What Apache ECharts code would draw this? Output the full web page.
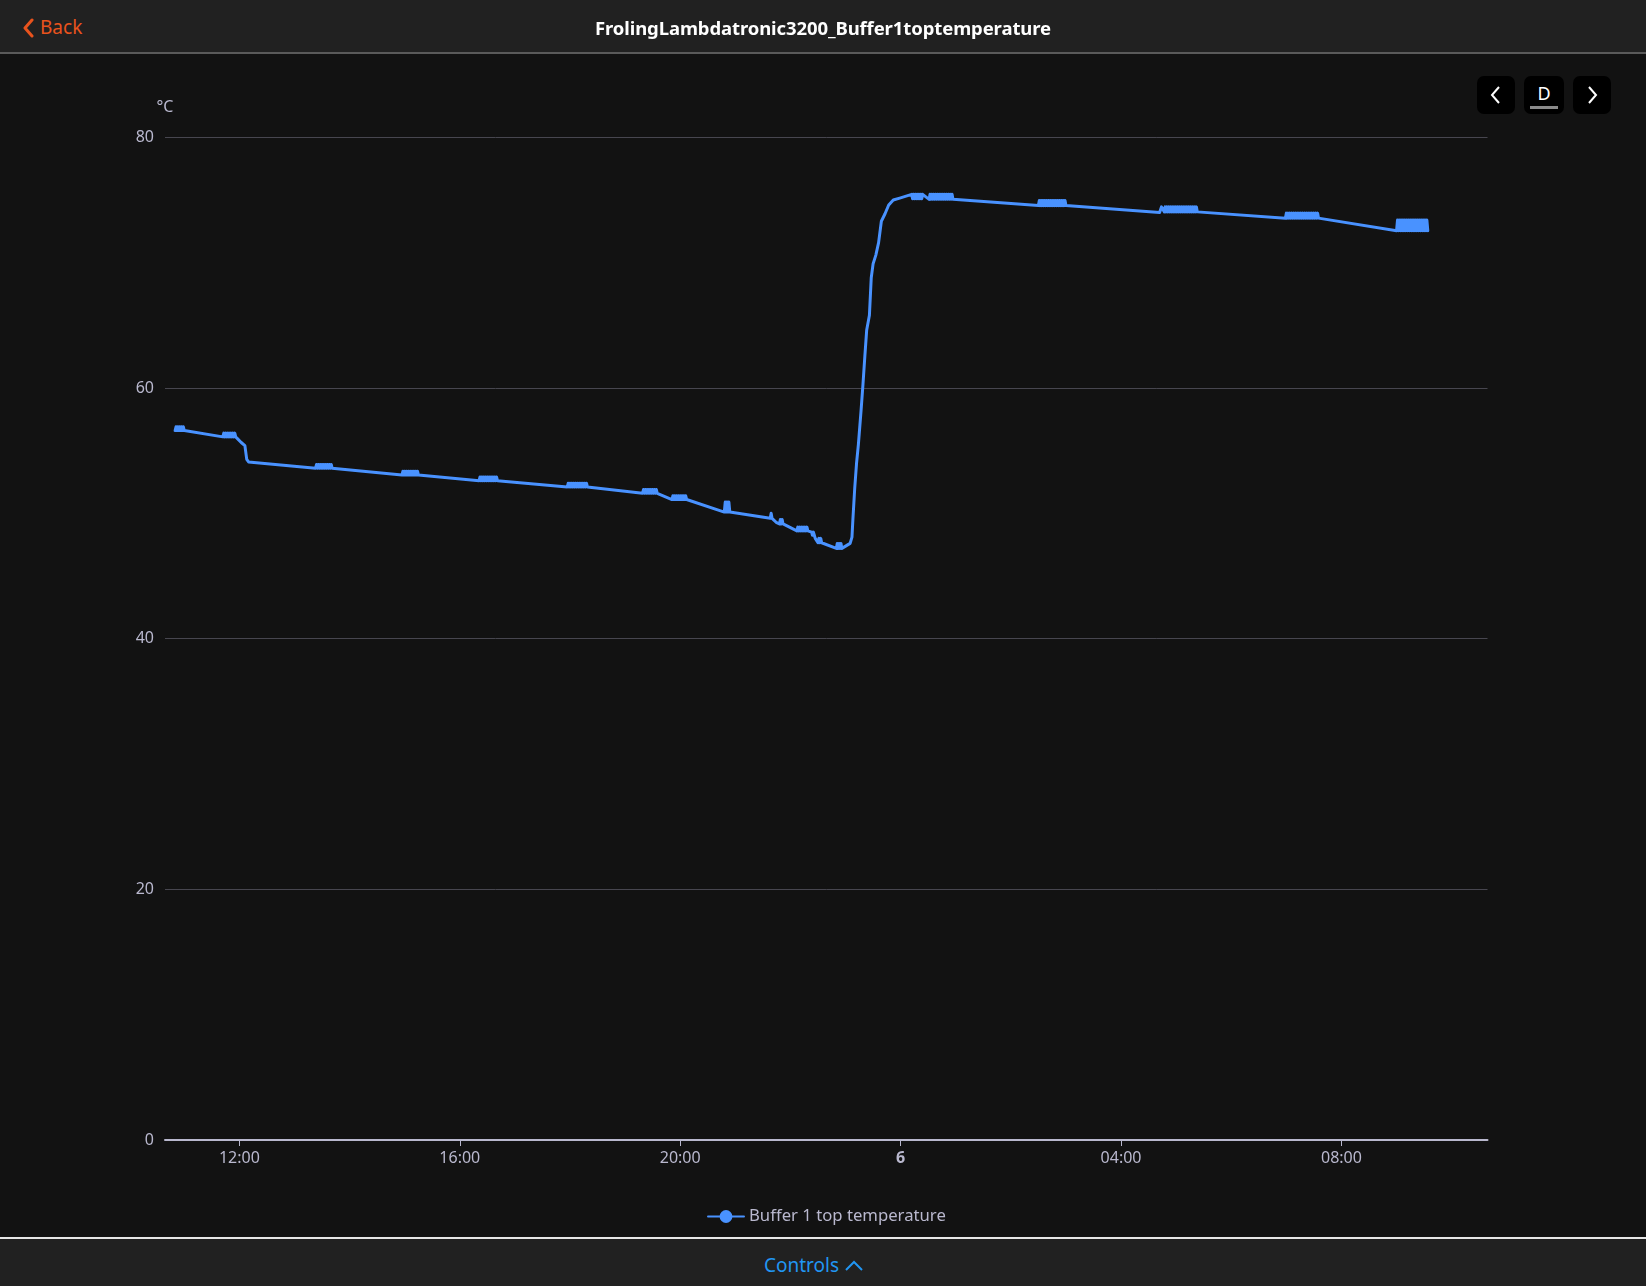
<!DOCTYPE html>
<html>
<head>
<meta charset="utf-8">
<script src="https://cdn.jsdelivr.net/npm/echarts@6/dist/echarts.min.js"></script>
<style>
  html, body { margin:0; padding:0; width:1646px; height:1286px; background:#121212; overflow:hidden; font-family:"Noto Sans", Roboto, sans-serif; }
  #chart { position:absolute; left:0; top:0; width:1646px; height:1286px; }
  #header { position:absolute; left:0; top:0; width:1646px; height:52px; background:#212121; border-bottom:2px solid #5a5a5a; z-index:2; }
  #title { position:absolute; left:0; width:1646px; top:0; height:55px; line-height:55px; text-align:center; color:#fff; font-weight:bold; font-size:18.5px; letter-spacing:-0.1px; }
  #back { position:absolute; left:22px; top:15px; height:24px; color:#e9531d; font-size:19px; line-height:24px; }
  #back svg { position:absolute; left:0; top:3px; }
  #back span { position:absolute; left:18px; top:0px; }
  .btn { position:absolute; top:76px; width:38px; height:38px; background:#000; border-radius:7px; z-index:2; }
  .btn svg { position:absolute; left:0; top:0; }
  #dtxt { position:absolute; left:0; width:40px; top:5px; text-align:center; color:#fff; font-size:18px; line-height:24px; }
  #dbar { position:absolute; left:6px; top:30px; width:28px; height:3px; background:#8a8a8a; }
  #footer { position:absolute; left:0; top:1237px; width:1646px; height:49px; background:#212121; border-top:2px solid #e6e6e6; z-index:2; }
  #controls { position:absolute; left:0; width:1628px; top:0; height:52px; line-height:52px; text-align:center; color:#2196f3; font-size:19px; }
</style>
</head>
<body>
<div id="chart"></div>
<div id="header">
  <div id="back"><svg width="14" height="20" viewBox="0 0 14 20"><polyline points="10,2 3,10 10,18" fill="none" stroke="#e9531d" stroke-width="3" stroke-linecap="round" stroke-linejoin="round"/></svg><span>Back</span></div>
  <div id="title">FrolingLambdatronic3200_Buffer1toptemperature</div>
</div>
<div class="btn" style="left:1477px;"><svg width="38" height="38" viewBox="0 0 38 38"><polyline points="22,11 15,19 22,27" fill="none" stroke="#fff" stroke-width="2"/></svg></div>
<div class="btn" style="left:1524px;width:40px;"><div id="dtxt">D</div><div id="dbar"></div></div>
<div class="btn" style="left:1573px;"><svg width="38" height="38" viewBox="0 0 38 38"><polyline points="16,11 23,19 16,27" fill="none" stroke="#fff" stroke-width="2"/></svg></div>
<div id="footer"><div id="controls">Controls <svg width="20" height="12" viewBox="0 0 20 12" style="vertical-align:1px"><polyline points="2,11 10,3 18,11" fill="none" stroke="#2196f3" stroke-width="2"/></svg></div></div>
<script>
// Buffer 1 top temperature readings: [start "HH:MM", values at consecutive minutes]
const cooling = [
  ['10:50', [56.6,56.9,56.6,56.9,56.6,56.9,56.6,56.9,56.6,56.9,56.6]],
  ['11:42', [56.1,56.4,56.1,56.4,56.1,56.4,56.1,56.4,56.1,56.4,56.1,56.4,56.1,56.4,56.1]],
  ['12:02', [55.65]], ['12:06', [55.4]], ['12:08', [54.3]], ['12:10', [54.1]],
  ['13:23', [53.6,53.9,53.6,53.9,53.6,53.9,53.6,53.9,53.6,53.9,53.6,53.9,53.6,53.9,53.6,53.9,53.6,53.9,53.6]],
  ['14:57', [53.05,53.35,53.05,53.35,53.05,53.35,53.05,53.35,53.05,53.35,53.05,53.35,53.05,53.35,53.05,53.35,53.05,53.35,53.05]],
  ['16:21', [52.6,52.9,52.6,52.9,52.6,52.9,52.6,52.9,52.6,52.9,52.6,52.9,52.6,52.9,52.6,52.9,52.6,52.9,52.6,52.9,52.6]],
  ['17:57', [52.1,52.4,52.1,52.4,52.1,52.4,52.1,52.4,52.1,52.4,52.1,52.4,52.1,52.4,52.1,52.4,52.1,52.4,52.1,52.4,52.1,52.4,52.1]],
  ['19:19', [51.6,51.9,51.6,51.9,51.6,51.9,51.6,51.9,51.6,51.9,51.6,51.9,51.6,51.9,51.6,51.9,51.6]],
  ['19:51', [51.1,51.4,51.1,51.4,51.1,51.4,51.1,51.4,51.1,51.4,51.1,51.4,51.1,51.4,51.1,51.4,51.1]],
  ['20:48', [50.1,50.9,50.1,50.9,50.1,50.9,50.1]],
  ['21:38', [49.6,50.0,49.6]],
  ['21:45', [49.25]],
  ['21:48', [49.15,49.5,49.15,49.5,49.15]],
  ['22:07', [48.6,48.9,48.6,48.9,48.6,48.9,48.6,48.9,48.6,48.9,48.6,48.9,48.6]],
  ['22:23', [48.5,48.25,48.5,48.25]],
  ['22:27', [48.0]],
  ['22:29', [48.0,47.65,48.0,47.65,48.0,47.65,47.6]],
  ['22:50', [47.2]],
  ['22:51', [47.6,47.2,47.6,47.2,47.6,47.2]],
  ['23:05', [47.6]]
];
const rise = [
  ['23:07', [48.1]], ['23:08', [49.5]], ['23:10', [52.0]], ['23:12', [54.0]], ['23:14', [55.5]],
  ['23:17', [58.3]], ['23:19', [60.3]], ['23:21', [62.5]], ['23:23', [64.6]],
  ['23:26', [65.8]], ['23:28', [68.8]], ['23:30', [69.9]], ['23:33', [70.6]],
  ['23:36', [71.6]], ['23:39', [73.3]], ['23:43', [73.9]], ['23:47', [74.6]],
  ['23:52', [75.0]], ['23:59', [75.15]]
];
const plateau = [
  ['00:12', [75.45,75.1,75.45,75.1,75.45,75.1,75.45,75.1,75.45,75.1,75.45,75.1,75.45]],
  ['00:31', [75.05,75.45,75.05,75.45,75.05,75.45,75.05,75.45,75.05,75.45,75.05,75.45,75.05,75.45,75.05,75.45,75.05,75.45,75.05,75.45,75.05,75.45,75.05,75.45,75.05,75.45,75.05]],
  ['02:30', [74.55,74.95,74.55,74.95,74.55,74.95,74.55,74.95,74.55,74.95,74.55,74.95,74.55,74.95,74.55,74.95,74.55,74.95,74.55,74.95,74.55,74.95,74.55,74.95,74.55,74.95,74.55,74.95,74.55,74.95,74.55]],
  ['04:42', [74.0]], ['04:44', [74.45]],
  ['04:46', [74.45,74.05,74.45,74.05,74.45,74.05,74.45,74.05,74.45,74.05,74.45,74.05,74.45,74.05,74.45,74.05,74.45,74.05,74.45,74.05,74.45,74.05,74.45,74.05,74.45,74.05,74.45,74.05,74.45,74.05,74.45,74.05,74.45,74.05,74.45,74.05,74.45,74.05]],
  ['06:59', [73.55,73.95,73.55,73.95,73.55,73.95,73.55,73.95,73.55,73.95,73.55,73.95,73.55,73.95,73.55,73.95,73.55,73.95,73.55,73.95,73.55,73.95,73.55,73.95,73.55,73.95,73.55,73.95,73.55,73.95,73.55,73.95,73.55,73.95,73.55,73.95,73.55]],
  ['09:00', [72.55,73.4,72.55,73.4,72.55,73.4,72.55,73.4,72.55,73.4,72.55,73.4,72.55,73.4,72.55,73.4,72.55,73.4,72.55,73.4,72.55,73.4,72.55,73.4,72.55,73.4,72.55,73.4,72.55,73.4,72.55,73.4,72.55,73.4,72.55]]
];
const yTicks = [0, 20, 40, 60, 80];
const seriesName = 'Buffer 1 top temperature';
const unit = '°C';
// window: 5th 10:39 -> 6th 10:39
const YEAR = 2023, MONTH = 10;
const windowStart = new Date(YEAR, MONTH, 5, 10, 39).getTime();
const windowEnd = new Date(YEAR, MONTH, 6, 10, 39).getTime();

function toPoints(segs) {
  const out = [];
  segs.forEach(([t, vals]) => {
    const [h, m] = t.split(':').map(Number);
    const day = (h * 60 + m >= 10 * 60 + 39) ? 5 : 6;
    vals.forEach((v, i) => out.push([new Date(YEAR, MONTH, day, h, m + i).getTime(), v]));
  });
  return out;
}
const data = [].concat(toPoints(cooling), toPoints(rise), toPoints(plateau));

const labelColor = '#B9B8CE';
const chart = echarts.init(document.getElementById('chart'), null, { renderer: 'canvas' });
chart.setOption({
  backgroundColor: 'transparent',
  animation: false,
  textStyle: { fontFamily: 'Noto Sans' },
  grid: { left: 165, right: 158.5, top: 137.3, bottom: 146, containLabel: false },
  legend: {
    data: [seriesName], top: 1203, left: 702, itemWidth: 36, itemHeight: 16, itemGap: 10,
    textStyle: { color: labelColor, fontSize: 16.7, fontFamily: 'Noto Sans' }
  },
  xAxis: {
    type: 'time', min: windowStart, max: windowEnd,
    minInterval: 4 * 3600 * 1000, maxInterval: 4 * 3600 * 1000,
    axisLine: { show: true, lineStyle: { color: labelColor, width: 2 } },
    axisTick: { show: true, length: 6, lineStyle: { color: labelColor } },
    splitLine: { show: false },
    axisLabel: {
      color: labelColor, fontSize: 16, margin: 10, fontFamily: 'Noto Sans',
      formatter: function (val) {
        const d = new Date(val);
        const hh = d.getHours(), mm = d.getMinutes();
        if (hh === 0 && mm === 0) return '{b|' + d.getDate() + '}';
        return (hh < 10 ? '0' : '') + hh + ':' + (mm < 10 ? '0' : '') + mm;
      },
      rich: { b: { fontWeight: 'bold', color: labelColor, fontSize: 16, fontFamily: 'Noto Sans' } }
    }
  },
  yAxis: {
    type: 'value', min: yTicks[0], max: yTicks[yTicks.length - 1], interval: yTicks[1] - yTicks[0],
    name: unit, nameLocation: 'end', nameGap: 22,
    nameTextStyle: { color: labelColor, fontSize: 16, align: 'center', fontFamily: 'Noto Sans' },
    axisLine: { show: false }, axisTick: { show: false },
    axisLabel: { color: labelColor, fontSize: 16, margin: 11, fontFamily: 'Noto Sans' },
    splitLine: { show: true, lineStyle: { color: '#47464f', width: 1 } }
  },
  series: [{
    name: seriesName, type: 'line', data: data,
    showSymbol: false, symbol: 'circle', symbolSize: 8,
    itemStyle: { color: '#4992ff' },
    lineStyle: { color: '#4992ff', width: 3, join: 'round', cap: 'round' },
    sampling: null
  }]
});
</script>
</body>
</html>
